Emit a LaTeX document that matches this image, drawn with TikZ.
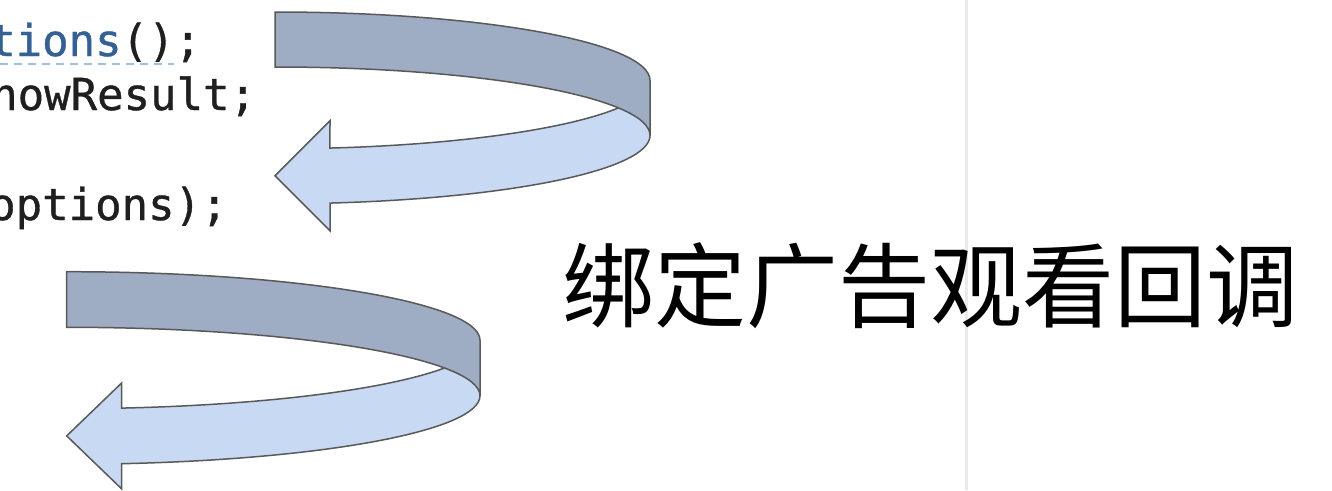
\documentclass[tikz,border=0pt]{standalone}
\usepackage{fontspec}
\newfontfamily\codefont[FakeBold=0.8]{DejaVu Sans Mono}
\newfontfamily\cjk{Noto Sans CJK SC}
\definecolor{bandback}{RGB}{158,172,196}
\definecolor{bandfront}{RGB}{199,217,243}
\definecolor{bandline}{RGB}{89,89,89}
\definecolor{codeblue}{RGB}{52,96,148}
\definecolor{codeunder}{RGB}{160,190,222}
\definecolor{sepgray}{RGB}{234,234,234}
\tikzset{
  backband/.style={fill=bandback, draw=bandline, line width=1.5pt},
  frontband/.style={fill=bandfront, draw=bandline, line width=1.5pt},
  codeline/.style={anchor=base west, inner sep=0pt, font=\codefont\fontsize{44}{44}\selectfont, text=black!88},
  bigtext/.style={anchor=base, inner sep=0pt, font=\cjk\fontsize{92}{92}\selectfont, text=black}
}
\begin{document}
\begin{tikzpicture}[x=1pt,y=1pt]
\useasboundingbox (0,0) rectangle (1332,-490);
\fill[white] (0,0) rectangle (1332,-490);
% separator
\draw[sepgray, line width=3pt] (966,0) -- (966,-490);
% code lines
\node[codeline] (l1) at (-11,-56) {\textcolor{codeblue}{tions}();};
\draw[codeunder, line width=2pt, dash pattern=on 8pt off 6pt] (0,-64) -- (174,-64);
\node[codeline] (l2) at (-9,-110) {nowResult;};
\node[codeline] (l3) at (-11,-220) {options);};
% upper ribbon arrow
\filldraw[frontband] (650,-80.4) arc[start angle=0, end angle=-81.57, x radius=375, y radius=68.4]
  -- (330,-120.7) -- (275,-175.7) -- (330,-230.7) -- (330,-203.06)
  arc[start angle=-81.57, end angle=0, x radius=375, y radius=68.4] -- cycle;
\filldraw[backband] (275,-12) arc[start angle=90, end angle=0, x radius=375, y radius=68.4]
  -- (650,-135.4) arc[start angle=0, end angle=90, x radius=375, y radius=68.4] -- cycle;
% lower ribbon arrow
\filldraw[frontband] (480,-340.2) arc[start angle=0, end angle=-82.35, x radius=413.3, y radius=68.5]
  -- (121.7,-382.9) -- (66.7,-435.9) -- (121.7,-488.9) -- (121.7,-463.7)
  arc[start angle=-82.35, end angle=0, x radius=413.3, y radius=68.5] -- cycle;
\filldraw[backband] (66.7,-271.7) arc[start angle=90, end angle=0, x radius=413.3, y radius=68.5]
  -- (480,-395.8) arc[start angle=0, end angle=90, x radius=413.3, y radius=68.5] -- cycle;
% label
\node[bigtext] (label) at (930,-320) {绑定广告观看回调};
\end{tikzpicture}
\end{document}
